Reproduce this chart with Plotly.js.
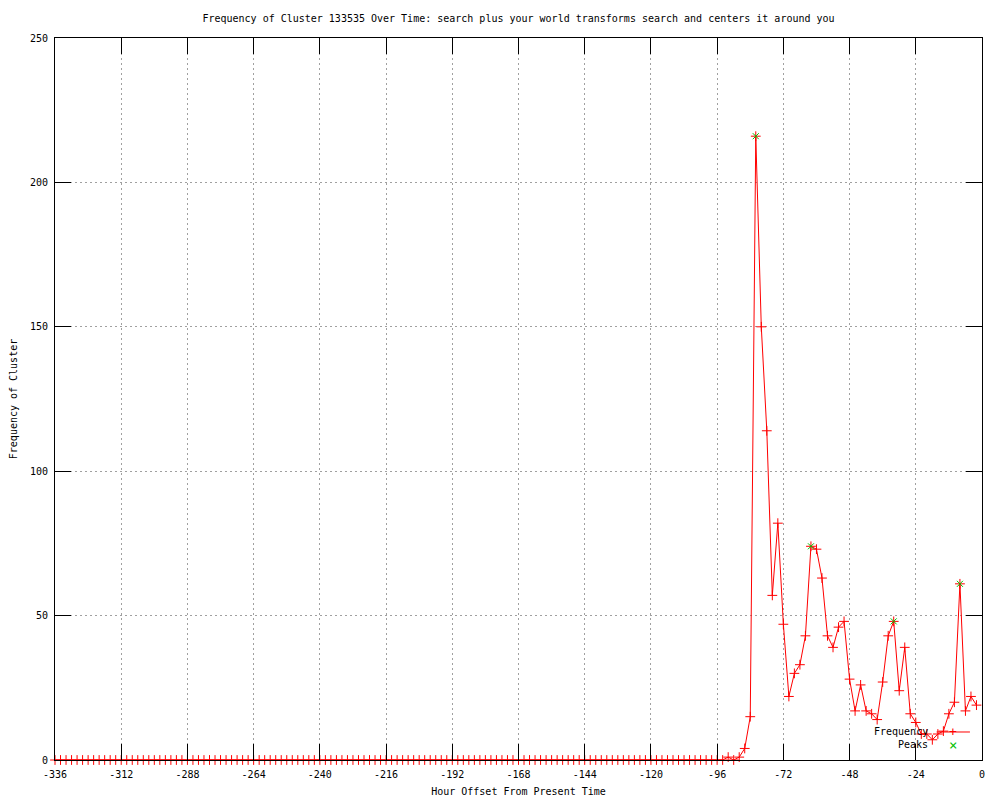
<!DOCTYPE html>
<html>
<head>
<meta charset="utf-8">
<script src="https://cdn.plot.ly/plotly-3.0.1.min.js"></script>
<style>html,body{margin:0;padding:0;background:#fff;}#chart{width:1000px;height:800px;}</style>
</head>
<body>
<div id="chart"></div>
<script>
// Hour offsets (every 2 hours)
const hours = [
-336,-334,-332,-330,-328,-326,-324,-322,-320,-318,-316,-314,-312,-310,-308,-306,-304,-302,-300,-298,
-296,-294,-292,-290,-288,-286,-284,-282,-280,-278,-276,-274,-272,-270,-268,-266,-264,-262,-260,-258,
-256,-254,-252,-250,-248,-246,-244,-242,-240,-238,-236,-234,-232,-230,-228,-226,-224,-222,-220,-218,
-216,-214,-212,-210,-208,-206,-204,-202,-200,-198,-196,-194,-192,-190,-188,-186,-184,-182,-180,-178,
-176,-174,-172,-170,-168,-166,-164,-162,-160,-158,-156,-154,-152,-150,-148,-146,-144,-142,-140,-138,
-136,-134,-132,-130,-128,-126,-124,-122,-120,-118,-116,-114,-112,-110,-108,-106,-104,-102,-100,-98,
-96,-94,-92,-90,-88,-86,-84,-82,-80,-78,-76,-74,-72,-70,-68,-66,-64,-62,-60,-58,
-56,-54,-52,-50,-48,-46,-44,-42,-40,-38,-36,-34,-32,-30,-28,-26,-24,-22,-20,-18,
-16,-14,-12,-10,-8,-6,-4,-2
];
const frequency = [
0,0,0,0,0,0,0,0,0,0,0,0,0,0,0,0,0,0,0,0,
0,0,0,0,0,0,0,0,0,0,0,0,0,0,0,0,0,0,0,0,
0,0,0,0,0,0,0,0,0,0,0,0,0,0,0,0,0,0,0,0,
0,0,0,0,0,0,0,0,0,0,0,0,0,0,0,0,0,0,0,0,
0,0,0,0,0,0,0,0,0,0,0,0,0,0,0,0,0,0,0,0,
0,0,0,0,0,0,0,0,0,0,0,0,0,0,0,0,0,0,0,0,
0,0,1,0,1,4,15,216,150,114,57,82,47,22,30,33,43,74,73,63,
43,39,46,48,28,17,26,17,16,14,27,43,48,24,39,16,13,9,9,7,
9,10,16,20,61,17,22,19
];
const peakHours = [-82, -62, -32, -8];
const peakValues = [216, 74, 48, 61];
const xTicks = [-336,-312,-288,-264,-240,-216,-192,-168,-144,-120,-96,-72,-48,-24,0];
const yTicks = [0,50,100,150,200,250];

const FONT = 'DejaVu Sans Mono, monospace';

const traces = [
  {
    x: hours, y: frequency, type: 'scatter', mode: 'lines+markers', name: 'Frequency',
    line: {color: '#ff0000', width: 1},
    marker: {symbol: 'cross-thin-open', size: 7, color: '#ff0000', line: {color: '#ff0000', width: 1}},
    cliponaxis: false, showlegend: false
  },
  {
    x: peakHours, y: peakValues, type: 'scatter', mode: 'markers', name: 'Peaks',
    marker: {symbol: 'x-thin-open', size: 6, color: '#00c000', line: {color: '#00c000', width: 1}},
    cliponaxis: false, showlegend: false
  }
];

const axisCommon = {
  showline: true, linecolor: '#000', linewidth: 1, mirror: 'ticks',
  ticks: 'inside', ticklen: 16, tickcolor: '#000', tickwidth: 1,
  showgrid: true, gridcolor: '#a0a0a0', gridwidth: 1, griddash: '2px,3px',
  zeroline: false, tickfont: {family: FONT, size: 10, color: '#000'}
};

const layout = {
  width: 1000, height: 800,
  paper_bgcolor: '#fff', plot_bgcolor: '#fff',
  margin: {l: 55, r: 18, t: 38, b: 40},
  showlegend: false,
  title: {text: 'Frequency of Cluster 133535 Over Time: search plus your world transforms search and centers it around you',
          font: {family: FONT, size: 10, color: '#000'}, x: 0.5, xref: 'paper', xanchor: 'center',
          y: 1 - 18/800, yref: 'container', yanchor: 'middle'},
  xaxis: Object.assign({}, axisCommon, {
    range: [-336, 0], tickvals: xTicks, ticktext: xTicks.map(String), ticklabelstandoff: 5,
    title: {text: 'Hour Offset From Present Time', font: {family: FONT, size: 10, color: '#000'}, standoff: 8}
  }),
  yaxis: Object.assign({}, axisCommon, {
    range: [0, 250], tickvals: yTicks, ticktext: yTicks.map(String), ticklabelstandoff: 4,
    title: {text: 'Frequency of Cluster', font: {family: FONT, size: 10, color: '#000'}, standoff: 10}
  }),
  annotations: [
    {xref: 'paper', yref: 'paper', x: 0.944, y: 0.0388, xanchor: 'right', yanchor: 'middle', showarrow: false,
     text: 'Frequency', font: {family: FONT, size: 10, color: '#000'}},
    {xref: 'paper', yref: 'paper', x: 0.944, y: 0.0208, xanchor: 'right', yanchor: 'middle', showarrow: false,
     text: 'Peaks', font: {family: FONT, size: 10, color: '#000'}},
    {xref: 'paper', yref: 'paper', x: 0.9687, y: 0.0388, xanchor: 'center', yanchor: 'middle', showarrow: false,
     text: '+', font: {family: FONT, size: 13, color: '#ff0000'}},
    {xref: 'paper', yref: 'paper', x: 0.9687, y: 0.0208, xanchor: 'center', yanchor: 'middle', showarrow: false,
     text: '×', font: {family: FONT, size: 14, color: '#00c000'}}
  ],
  shapes: [
    {type: 'line', xref: 'paper', yref: 'paper', x0: 0.951, x1: 0.987, y0: 0.0388, y1: 0.0388,
     line: {color: '#ff0000', width: 1}}
  ]
};

Plotly.newPlot('chart', traces, layout, {displayModeBar: false, staticPlot: true});
</script>
</body>
</html>
